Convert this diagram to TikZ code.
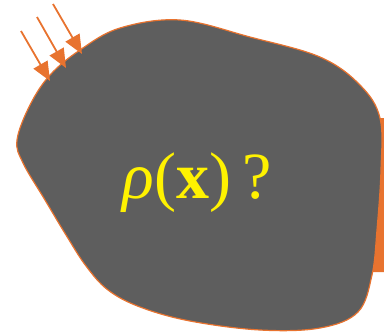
\documentclass[tikz,border=0pt]{standalone}
\usepackage{fontspec}
\setmainfont{Liberation Serif}
\usetikzlibrary{arrows.meta}
\definecolor{blobgray}{HTML}{5E5E5E}
\definecolor{rayorange}{HTML}{E8732F}
\tikzset{
  blob/.style={draw=rayorange, line width=1.2pt, fill=blobgray},
  ray/.style={draw=rayorange, line width=1.8pt,
    -{Triangle[length=19pt, width=16pt]}},
}
\begin{document}
\begin{tikzpicture}[x=1pt, y=-1pt]
  \useasboundingbox (0,0) rectangle (384,335);
  \clip (0,0) rectangle (384,335);

  %% --- 右端の帯 ---
  \fill[rayorange] (380,118) -- (392,118) -- (392,272) -- (373,272) -- cycle;

  %% --- 物体（密度不明） ---
  \draw[blob]
    plot[smooth cycle, tension=0.6]
    coordinates {(17,140) (30,105) (50,75) (80,50) (120,28) (180,20)
                 (250,37) (320,57) (360,85) (380,118) (381,170) (377,230)
                 (372,275) (358,312) (320,328) (260,330) (190,321)
                 (140,307) (108,290) (86,266) (66,235) (45,200) (23,163)};

  \node[text=yellow, font=\fontsize{66}{72}\selectfont] (rho) at (197,183)
    {\textit{ρ}(\textbf{x})\,?};

  %% --- 入射する光線 ---
  \coordinate (s1) at (21,31);  \coordinate (t1) at (50,81);
  \coordinate (s2) at (37,17);  \coordinate (t2) at (66,68);
  \coordinate (s3) at (53,4);   \coordinate (t3) at (82,54);
  \foreach \i in {1,2,3}
    \draw[ray] (s\i) -- (t\i);
\end{tikzpicture}
\end{document}
